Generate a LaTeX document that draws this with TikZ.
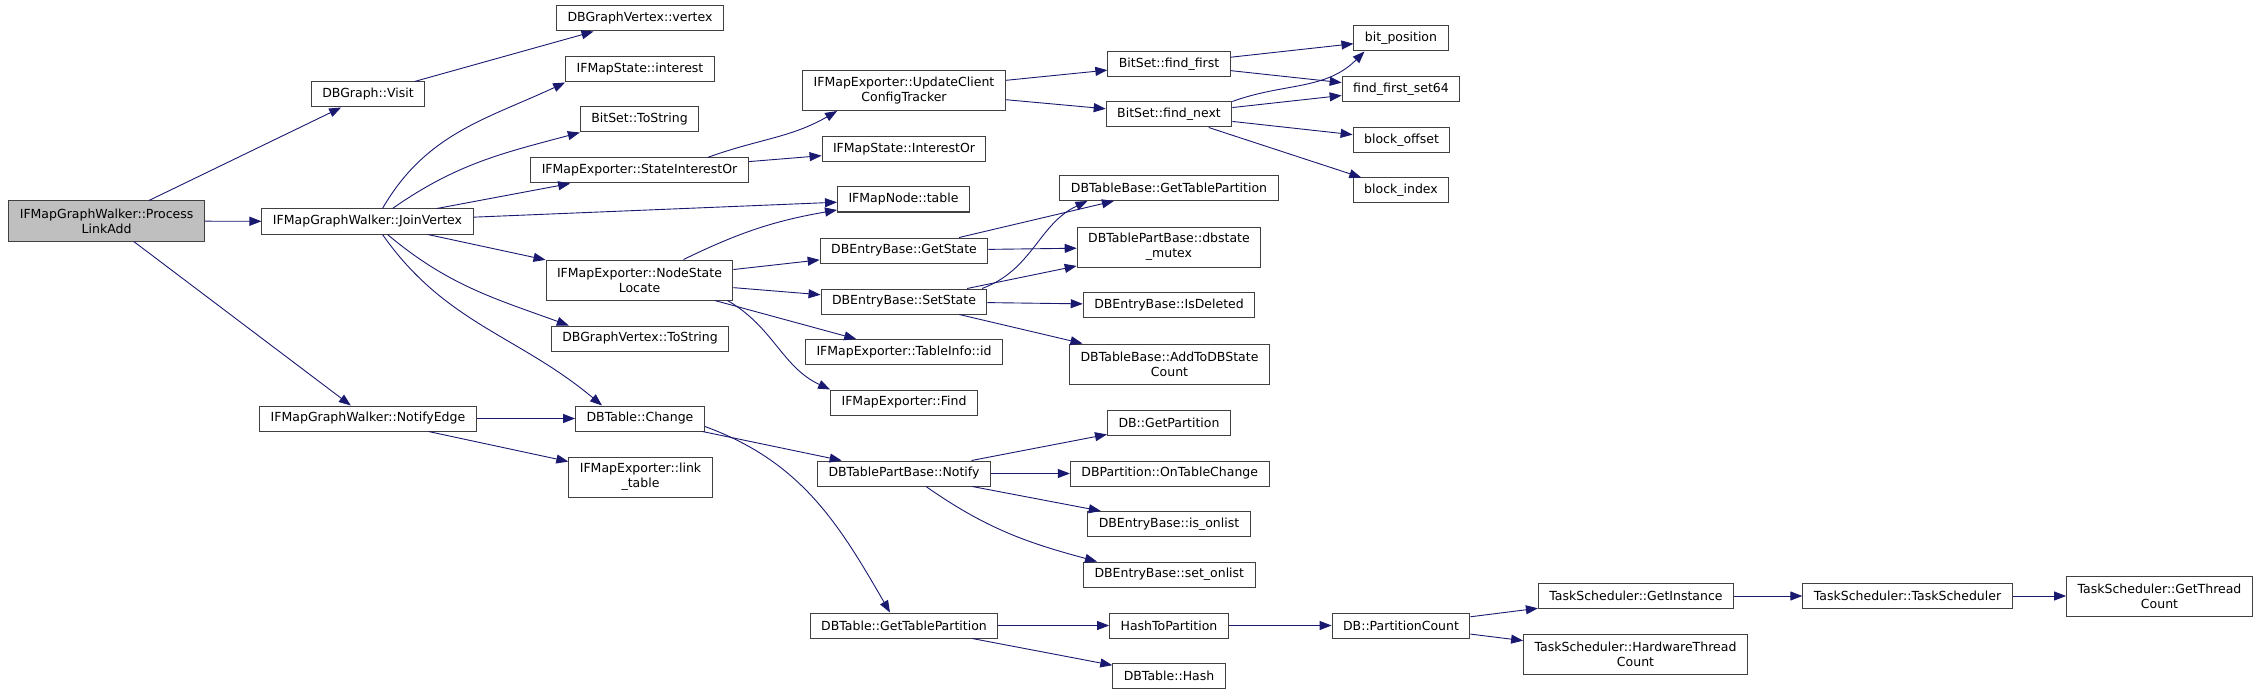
\documentclass[tikz,border=0pt]{standalone}
\usepackage{fontspec}
\setmainfont{DejaVu Sans}
\usepackage{xcolor}
\usepackage{tikz}
\usetikzlibrary{arrows.meta}
\definecolor{cgedge}{HTML}{191970}
\definecolor{cgroot}{HTML}{BFBFBF}
\definecolor{cgline}{HTML}{404040}

\begin{document}
\begin{tikzpicture}[
    x=1pt,y=1pt,
    font=\fontsize{12.5}{14.7}\selectfont,
    bx/.style={draw=cgline,fill=white,line width=1pt,
               minimum height=25pt,inner xsep=11pt,inner ysep=6pt,
               align=center},
    bxx/.style={bx,minimum height=40pt},
    rbx/.style={bxx,fill=cgroot},
    arr/.style={-{Triangle[length=12pt,width=9pt]},line width=0.9pt,cgedge}
  ]
  \useasboundingbox (0,0) rectangle (2261,-695);

  % Callers
  \node[rbx] (pla)   at (106.6,-221)  {IFMapGraphWalker::Process\\LinkAdd};
  \node[bx]  (jv)    at (367.5,-221.5) {IFMapGraphWalker::JoinVertex};
  \node[bx]  (visit) at (368,-94.5)   {DBGraph::Visit};
  \node[bx]  (ne)    at (368,-418.5)  {IFMapGraphWalker::NotifyEdge};

  \node[bx]  (vtx)   at (640,-18.5)   {DBGraphVertex::vertex};
  \node[bx]  (intr)  at (640,-69.5)   {IFMapState::interest};
  \node[bx]  (bsts)  at (639.5,-119.5) {BitSet::ToString};
  \node[bx]  (sio)   at (639.5,-170.5) {IFMapExporter::StateInterestOr};
  \node[bxx] (nsl)   at (639.5,-280)  {IFMapExporter::NodeState\\Locate};
  \node[bx]  (gvts)  at (640,-338.5)  {DBGraphVertex::ToString};
  \node[bx]  (chg)   at (640,-418.5)  {DBTable::Change};
  \node[bxx] (lt)    at (640.5,-477)  {IFMapExporter::link\\\_table};

  \node[bxx] (ucct)  at (904,-90.5)   {IFMapExporter::UpdateClient\\ConfigTracker};
  \node[bx]  (isor)  at (904,-149)    {IFMapState::InterestOr};
  \node[bx]  (ntab)  at (903.5,-199.5) {IFMapNode::table};
  \node[bx]  (gst)   at (904,-250.5)  {DBEntryBase::GetState};
  \node[bx]  (sst)   at (904,-301.5)  {DBEntryBase::SetState};
  \node[bx]  (tid)   at (904,-352)    {IFMapExporter::TableInfo::id};
  \node[bx]  (find)  at (904,-402.5)  {IFMapExporter::Find};
  \node[bx]  (ntfy)  at (904,-473.5)  {DBTablePartBase::Notify};
  \node[bx]  (gtp)   at (904,-625.5)  {DBTable::GetTablePartition};

  \node[bx]  (ff)    at (1169,-64)    {BitSet::find\_first};
  \node[bx]  (fnx)   at (1169,-114.5) {BitSet::find\_next};
  \node[bx]  (tbgtp) at (1169,-188)   {DBTableBase::GetTablePartition};
  \node[bxx] (mtx)   at (1169,-247)   {DBTablePartBase::dbstate\\\_mutex};
  \node[bx]  (isdel) at (1169,-305)   {DBEntryBase::IsDeleted};
  \node[bxx] (addc)  at (1169.5,-364) {DBTableBase::AddToDBState\\Count};
  \node[bx]  (gpart) at (1169,-422.5) {DB::GetPartition};
  \node[bx]  (otc)   at (1169.7,-473.5) {DBPartition::OnTableChange};
  \node[bx]  (isonl) at (1169,-524)   {DBEntryBase::is\_onlist};
  \node[bx]  (setonl) at (1169.3,-574.5) {DBEntryBase::set\_onlist};
  \node[bx]  (htp)   at (1169,-625.5) {HashToPartition};
  \node[bx]  (hash)  at (1169,-676)   {DBTable::Hash};

  \node[bx]  (bpos)  at (1401,-38.5)  {bit\_position};
  \node[bx]  (ffs)   at (1401,-89)    {find\_first\_set64};
  \node[bx]  (boff)  at (1401.5,-140) {block\_offset};
  \node[bx]  (bidx)  at (1401,-190.5) {block\_index};
  \node[bx]  (pcnt)  at (1401,-625.5) {DB::PartitionCount};

  \node[bx]  (ginst) at (1636,-596)   {TaskScheduler::GetInstance};
  \node[bxx] (hwtc)  at (1635.5,-654.5) {TaskScheduler::HardwareThread\\Count};
  \node[bx]  (tsts)  at (1907.5,-596) {TaskScheduler::TaskScheduler};
  \node[bxx] (gtc)   at (2159.5,-596) {TaskScheduler::GetThread\\Count};

  % Arrows
  \draw[arr] (pla) -- (visit);
  \draw[arr] (pla) -- (jv);
  \draw[arr] (pla) -- (ne);
  \draw[arr] (visit) -- (vtx);

  \draw[arr] ([xshift=15pt]jv.north) to[out=60,in=205] (intr.south west);
  \draw[arr] ([xshift=25pt]jv.north) to[out=35,in=195] (bsts.south west);
  \draw[arr] (jv) -- (sio);
  \draw[arr] (jv) -- (ntab);
  \draw[arr] (jv) -- (nsl);
  \draw[arr] ([xshift=20pt]jv.south) to[out=-40,in=160] ([xshift=18pt]gvts.north west);
  \draw[arr] ([xshift=15pt]jv.south) to[out=-55,in=140] ([xshift=-38pt]chg.north);

  \draw[arr] ([xshift=68pt]sio.north) to[out=20,in=210] ([xshift=35pt]ucct.south west);
  \draw[arr] (sio) -- (isor);

  \draw[arr] (nsl) to[bend left=8] (ntab);
  \draw[arr] (nsl) -- (gst);
  \draw[arr] (nsl) -- (sst);
  \draw[arr] (nsl) -- (tid);
  \draw[arr] ([xshift=88pt]nsl.south) to[out=-30,in=155] (find.north west);

  \draw[arr] (ucct) -- (ff);
  \draw[arr] (ucct) -- (fnx);
  \draw[arr] (ff) -- (bpos);
  \draw[arr] (ff) -- (ffs);
  \draw[arr] (fnx.north east) to[out=20,in=225] ([xshift=11pt]bpos.south west);
  \draw[arr] (fnx) -- (ffs);
  \draw[arr] (fnx) -- (boff);
  \draw[arr] (fnx) -- (bidx);

  \draw[arr] (gst) -- (tbgtp);
  \draw[arr] (gst) -- (mtx);
  \draw[arr] ([xshift=78pt]sst.north) to[out=20,in=205] ([xshift=28pt]tbgtp.south west);
  \draw[arr] (sst) -- (mtx);
  \draw[arr] (sst) -- (isdel);
  \draw[arr] (sst) -- (addc);

  \draw[arr] (ne) -- (chg);
  \draw[arr] (ne) -- (lt);
  \draw[arr] (chg) -- (ntfy);
  \draw[arr] ([yshift=-8pt]chg.east) to[out=-20,in=120] ([xshift=-14pt]gtp.north);

  \draw[arr] (ntfy) -- (gpart);
  \draw[arr] (ntfy) -- (otc);
  \draw[arr] (ntfy) -- (isonl);
  \draw[arr] ([xshift=22pt]ntfy.south) to[out=-35,in=165] ([xshift=14pt]setonl.north west);

  \draw[arr] (gtp) -- (htp);
  \draw[arr] (gtp) -- (hash);
  \draw[arr] (htp) -- (pcnt);
  \draw[arr] (pcnt) -- (ginst);
  \draw[arr] (pcnt) -- (hwtc);
  \draw[arr] (ginst) -- (tsts);
  \draw[arr] (tsts) -- (gtc);

\end{tikzpicture}
\end{document}
